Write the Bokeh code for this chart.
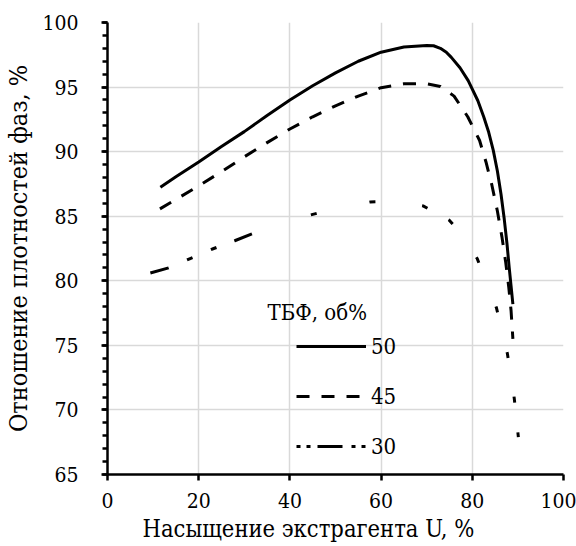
from bokeh.plotting import figure
from bokeh.models import (Range1d, FixedTicker, Legend, LegendItem, Label,
                          Title)
from bokeh.embed import file_html
from bokeh.resources import INLINE

# ---- data ----
u50 = [11.6, 15, 20, 25, 30, 35, 40, 45, 50, 55, 60, 65, 70, 71.5, 73, 74.3,
       75.4, 77.3, 79.1, 81.2, 82.5, 83.6, 84.6, 85.5, 86.3, 87.0, 87.6,
       88.1, 88.5, 88.9]
r50 = [87.25, 88.05, 89.2, 90.4, 91.55, 92.8, 94.0, 95.1, 96.1, 97.0, 97.7,
       98.1, 98.22, 98.2, 98.0, 97.7, 97.3, 96.5, 95.5, 93.96, 92.7, 91.5,
       90.1, 88.5, 86.7, 84.8, 82.9, 81.0, 79.6, 78.2]

u45 = [11.5, 15, 20, 25, 30, 35, 40, 45, 50, 55, 60, 65, 70, 73, 76, 79,
       81.6, 83.0, 84.3, 85.5, 86.5, 87.3, 88.0, 88.5, 88.9]
r45 = [85.57, 86.3, 87.35, 88.45, 89.6, 90.7, 91.75, 92.7, 93.55, 94.3, 94.95,
       95.25, 95.25, 95.05, 94.3, 92.7, 90.86, 89.2, 87.4, 85.4, 83.4, 81.5,
       79.5, 77.7, 75.5]

u30 = [9.4, 13.4, 18.0, 23.3, 27.9, 32.1, 44.6, 51, 57.6, 63, 69.2, 74.9,
       78, 81.1, 85.3, 87.7, 89.2, 90.1]
r30 = [80.6, 81.0, 81.7, 82.5, 83.1, 83.7, 85.1, 85.7, 86.1, 86.15, 85.8,
       84.7, 83.5, 81.7, 77.9, 74.35, 70.9, 67.9]
SPLIT30 = 6  # the reference's pattern changes from dash-dot-dot to dots here

labels = ["50", "45", "30"]
legend_title = "ТБФ, об%"
x_title = "Насыщение экстрагента U, %"
y_title = "Отношение плотностей фаз, %"
x_ticks = [0, 20, 40, 60, 80, 100]
y_ticks = [65, 70, 75, 80, 85, 90, 95, 100]
y_minor = list(range(65, 101))

FONT = "DejaVu Serif Condensed, DejaVu Serif"

p = figure(width=576, height=546, output_backend="svg", toolbar_location=None,
           x_range=Range1d(0, 100), y_range=Range1d(65, 100),
           min_border_left=107, min_border_right=13, min_border_top=22,
           min_border_bottom=72)
p.outline_line_color = None
p.background_fill_color = "white"
p.border_fill_color = "white"

# grids
p.xgrid.ticker = FixedTicker(ticks=x_ticks)
p.ygrid.ticker = FixedTicker(ticks=y_ticks)
for g in (p.xgrid[0], p.ygrid[0]):
    g.grid_line_color = "#d9d9d9"
    g.grid_line_width = 1.5

# axes
p.xaxis.ticker = FixedTicker(ticks=x_ticks)
p.yaxis.ticker = FixedTicker(ticks=y_ticks, minor_ticks=y_minor)
for ax in (p.xaxis[0], p.yaxis[0]):
    ax.axis_line_color = "black"
    ax.axis_line_width = 2.5
    ax.major_tick_line_color = "black"
    ax.major_tick_line_width = 2.5
    ax.major_tick_out = 6
    ax.major_tick_in = 0
    ax.major_label_text_font = FONT
    ax.major_label_text_font_size = "21px"
    ax.major_label_text_color = "black"
p.xaxis.minor_tick_line_color = None
p.yaxis.minor_tick_line_color = "black"
p.yaxis.minor_tick_line_width = 2.5
p.yaxis.minor_tick_out = 5
p.yaxis.minor_tick_in = 0
p.xaxis.major_label_standoff = 12
p.yaxis.major_label_standoff = 23

p.yaxis.axis_label = y_title
p.yaxis.axis_label_text_font = FONT
p.yaxis.axis_label_text_font_size = "25px"
p.yaxis.axis_label_text_font_style = "normal"
p.yaxis.axis_label_text_color = "black"
p.yaxis.axis_label_standoff = 6

# x-axis title, shifted left of centre as in the reference
p.add_layout(Title(text=x_title, align="left", offset=35,
                   text_font=FONT, text_font_size="23.5px",
                   text_font_style="normal", text_color="black",
                   standoff=4), "below")

# series
r_50 = p.line(u50, r50, line_color="black", line_width=3)
r_45 = p.line(u45, r45, line_color="black", line_width=3, line_dash="13 12")
p.line(u30[:SPLIT30], r30[:SPLIT30], line_color="black", line_width=3,
       line_dash="19 20 6 20 6 19")
p.line(u30[SPLIT30:], r30[SPLIT30:], line_color="black", line_width=3,
       line_dash="6 54 6 47 6 24 6 41 6 47 6 41 6 39 6 30 6 100")
nan = float("nan")
r_30_leg = p.line(x=[nan, nan], y=[nan, nan], line_color="black",
                  line_width=3, line_dash="4 6 4 7 25 9 4 6 4 10")

legend = Legend(items=[LegendItem(label=labels[0], renderers=[r_50]),
                       LegendItem(label=labels[1], renderers=[r_45]),
                       LegendItem(label=labels[2], renderers=[r_30_leg])],
                location=(189, 14), orientation="vertical",
                glyph_width=70, glyph_height=28, label_height=28,
                label_width=20, spacing=22, padding=0, margin=0,
                label_standoff=5, border_line_color=None,
                background_fill_alpha=0,
                label_text_font=FONT, label_text_font_size="22px",
                label_text_color="black")
p.add_layout(legend)

p.add_layout(Label(x=35.1, y=77.57, text=legend_title,
                   text_font=FONT,
                   text_font_size="22px", text_color="black",
                   text_baseline="alphabetic", text_align="left"))

open("out.html", "w").write(file_html(p, INLINE))
